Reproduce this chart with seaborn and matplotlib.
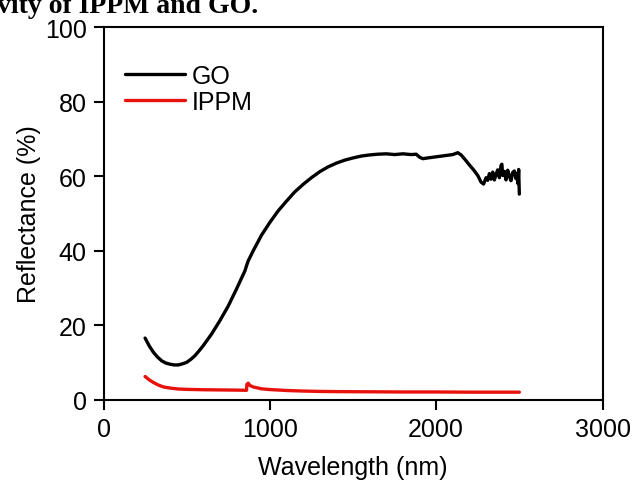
import seaborn as sns
import matplotlib.pyplot as plt
import pandas as pd

# GO reflectance spectrum
go_wl = [250, 275, 300, 325, 350, 375, 400, 425, 450, 475, 500, 525, 550, 575, 600,
         650, 700, 750, 800, 850, 860, 870, 900, 950, 1000, 1050, 1100, 1150, 1200,
         1250, 1300, 1350, 1400, 1450, 1500, 1550, 1600, 1650, 1700, 1750, 1800, 1850,
         1880, 1900, 1920, 1950, 2000, 2050, 2100, 2130, 2150, 2175, 2200, 2225, 2250,
         2270, 2285, 2300, 2310, 2320, 2330, 2340, 2350, 2360, 2370, 2380, 2390, 2395,
         2400, 2410, 2420, 2430, 2440, 2450, 2460, 2470, 2480, 2488, 2492, 2496, 2500]
go_r = [16.6, 14.5, 12.8, 11.5, 10.5, 9.9, 9.6, 9.4, 9.4, 9.7, 10.1, 10.9, 11.9, 13.2, 14.6,
        17.7, 21.3, 25.2, 29.8, 34.6, 36.0, 37.3, 40.0, 44.2, 47.6, 50.7, 53.3, 55.8, 57.8,
        59.6, 61.2, 62.5, 63.5, 64.3, 64.9, 65.4, 65.7, 65.9, 66.0, 65.8, 66.0, 65.8,
        65.9, 65.1, 64.7, 64.9, 65.2, 65.5, 65.8, 66.3, 65.7, 64.4, 63.0, 61.7, 60.2,
        58.4, 57.9, 59.6, 58.9, 60.7, 59.2, 61.1, 59.0, 60.5, 61.7, 59.6, 62.9, 63.2,
        60.2, 61.3, 59.0, 61.6, 60.0, 58.8, 61.0, 61.4, 59.3, 60.8, 58.0, 61.8, 55.2]

# IPPM reflectance spectrum
ippm_wl = [250, 275, 300, 330, 360, 400, 450, 500, 600, 700, 800, 860, 862, 870, 880,
           900, 950, 1000, 1100, 1200, 1300, 1400, 1600, 1800, 2000, 2200, 2400, 2500]
ippm_r = [6.3, 5.4, 4.7, 4.0, 3.5, 3.2, 2.95, 2.85, 2.75, 2.7, 2.65, 2.6, 4.2, 4.5, 3.9,
          3.5, 3.0, 2.8, 2.55, 2.4, 2.3, 2.25, 2.2, 2.15, 2.15, 2.1, 2.1, 2.1]

x_ticks = [0, 1000, 2000, 3000]
y_ticks = [0, 20, 40, 60, 80, 100]

go = pd.DataFrame({'Wavelength': go_wl, 'Reflectance': go_r})
ippm = pd.DataFrame({'Wavelength': ippm_wl, 'Reflectance': ippm_r})

sns.set_style('white')
plt.rcParams['font.family'] = ['Liberation Sans', 'DejaVu Sans']
plt.rcParams['text.color'] = 'black'
plt.rcParams['axes.labelcolor'] = 'black'
plt.rcParams['xtick.color'] = 'black'
plt.rcParams['ytick.color'] = 'black'

fig = plt.figure(figsize=(6.33, 4.89), dpi=100)
ax = fig.add_axes([103.5 / 633, 1 - 401 / 489, 499 / 633, 373 / 489])

sns.lineplot(data=go, x='Wavelength', y='Reflectance', color='black', lw=2.4,
             sort=False, estimator=None, label='GO', ax=ax)
sns.lineplot(data=ippm, x='Wavelength', y='Reflectance', color='#e8120c', lw=2.4,
             sort=False, estimator=None, label='IPPM', ax=ax)

ax.set_xlim(0, 3000)
ax.set_ylim(0, 100)
ax.set_xticks(x_ticks)
ax.set_yticks(y_ticks)
ax.set_xlabel('Wavelength (nm)', fontsize=18, labelpad=10)
ax.set_ylabel('Reflectance (%)', fontsize=18, labelpad=3)
ax.tick_params(direction='out', length=7, width=1.5, labelsize=18,
               bottom=True, left=True, pad=5)
for s in ax.spines.values():
    s.set_color('black')
    s.set_linewidth(1.5)

ax.legend(loc='upper left', bbox_to_anchor=(112 / 633, 1 - 52 / 489),
          bbox_transform=fig.transFigure, frameon=False, fontsize=18,
          handlelength=2.4, handletextpad=0.3, labelspacing=0.1, borderpad=0)

# cropped caption from the page above the chart
fig.text(258 / 633, 1 - 13 / 489, 'vity of IPPM and GO.', ha='right', va='baseline',
         fontsize=20, fontweight='bold', family='Liberation Serif')

fig.savefig('out.png', dpi=100)
